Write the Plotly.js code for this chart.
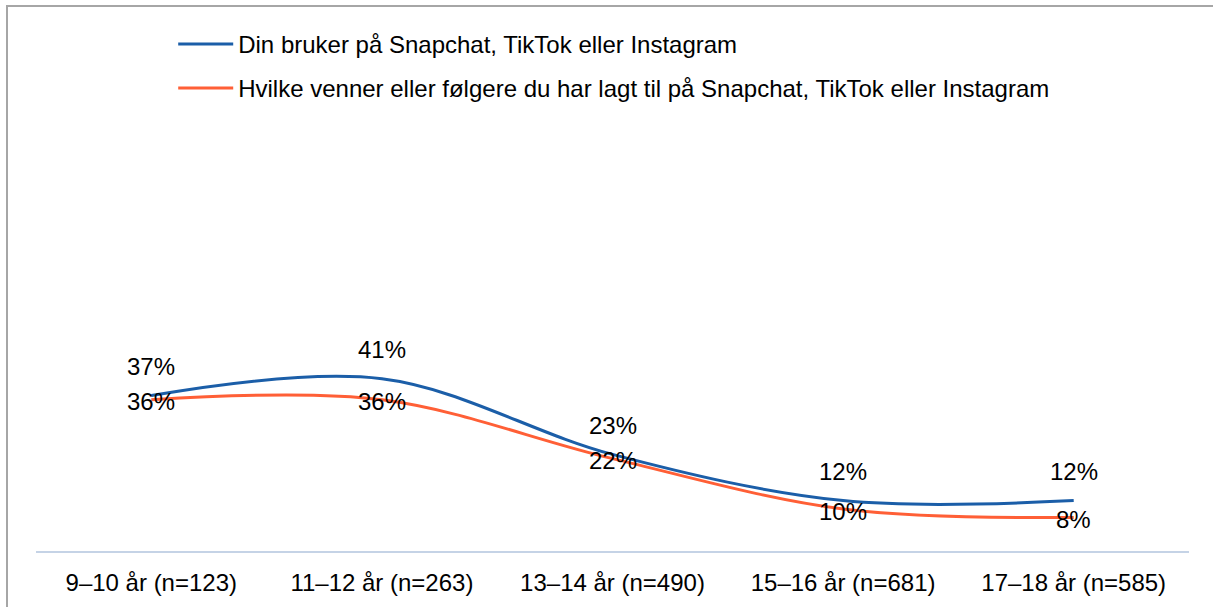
<!DOCTYPE html>
<html>
<head>
<meta charset="utf-8">
<script src="https://cdn.plot.ly/plotly-3.0.1.min.js"></script>
<style>
  html, body { margin: 0; padding: 0; background: #ffffff; overflow: hidden; }
  #frame { position: absolute; left: 6px; top: 5px; width: 1220px; height: 620px;
           border-left: 2px solid #A6A6A6; border-top: 2px solid #A6A6A6; pointer-events: none; z-index: 10; }
  #chart { position: absolute; left: 0; top: 0; width: 1213px; height: 607px; }
</style>
</head>
<body>
<div id="chart"></div>
<div id="frame"></div>
<script>
const categories = ["9–10 år (n=123)", "11–12 år (n=263)", "13–14 år (n=490)", "15–16 år (n=681)", "17–18 år (n=585)"];
const seriesNames = ["Din bruker på Snapchat, TikTok eller Instagram",
                     "Hvilke venner eller følgere du har lagt til på Snapchat, TikTok eller Instagram"];
const userValues = [37, 41, 23, 12, 12];
const friendsValues = [36, 36, 22, 10, 8];
const colors = ["#1B5EA8", "#FF5F36"];

const font = "Liberation Sans, Arial, sans-serif";

const traces = [
  { x: categories, y: userValues, name: seriesNames[0], type: "scatter", mode: "lines",
    line: { color: colors[0], width: 3, shape: "spline", smoothing: 1 }, legendgroup: "a", hoverinfo: "skip" },
  { x: categories, y: friendsValues, name: seriesNames[1], type: "scatter", mode: "lines",
    line: { color: colors[1], width: 3, shape: "spline", smoothing: 1 }, legendgroup: "b", hoverinfo: "skip" }
];

const annotations = [];
categories.forEach((c, i) => {
  annotations.push({ x: c, y: userValues[i], text: userValues[i] + "%", showarrow: false,
    yshift: 29, font: { family: font, size: 24, color: "#000000" } });
  annotations.push({ x: c, y: friendsValues[i], text: friendsValues[i] + "%", showarrow: false,
    yshift: -2, font: { family: font, size: 24, color: "#000000" } });
});

const layout = {
  width: 1213, height: 607,
  margin: { l: 36, r: 24, t: 131, b: 56 },
  paper_bgcolor: "#ffffff", plot_bgcolor: "#ffffff",
  font: { family: font, size: 24, color: "#000000" },
  showlegend: true,
  legend: { x: 0.119, xanchor: "left", y: 1.26, yanchor: "top", orientation: "v",
            tracegroupgap: 10, traceorder: "grouped", itemwidth: 55,
            font: { family: font, size: 24, color: "#000000" }, bgcolor: "rgba(0,0,0,0)" },
  xaxis: { type: "category", range: [-0.5, 4.5], showgrid: false, zeroline: false, showline: true,
           linecolor: "#C5D3E6", linewidth: 2, ticks: "", ticklabelstandoff: 9,
           tickfont: { family: font, size: 24, color: "#000000" }, fixedrange: true },
  yaxis: { visible: false, range: [0, 100], showgrid: false, zeroline: false, fixedrange: true },
  annotations: annotations
};

Plotly.newPlot("chart", traces, layout, { staticPlot: true, displayModeBar: false });
</script>
</body>
</html>
